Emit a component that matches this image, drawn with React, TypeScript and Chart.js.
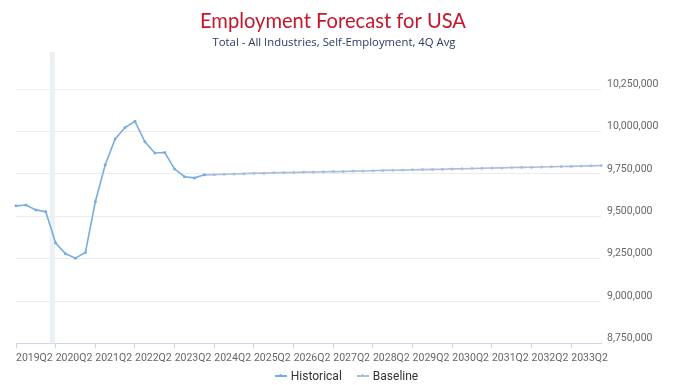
import React, { useEffect, useRef } from 'react';
import { Chart, registerables } from 'chart.js';

Chart.register(...registerables);

// Quarterly categories, 2019Q2 through 2034Q1
const quarters: string[] = [
  '2019Q2', '2019Q3', '2019Q4', '2020Q1',
  '2020Q2', '2020Q3', '2020Q4', '2021Q1',
  '2021Q2', '2021Q3', '2021Q4', '2022Q1',
  '2022Q2', '2022Q3', '2022Q4', '2023Q1',
  '2023Q2', '2023Q3', '2023Q4', '2024Q1',
  '2024Q2', '2024Q3', '2024Q4', '2025Q1',
  '2025Q2', '2025Q3', '2025Q4', '2026Q1',
  '2026Q2', '2026Q3', '2026Q4', '2027Q1',
  '2027Q2', '2027Q3', '2027Q4', '2028Q1',
  '2028Q2', '2028Q3', '2028Q4', '2029Q1',
  '2029Q2', '2029Q3', '2029Q4', '2030Q1',
  '2030Q2', '2030Q3', '2030Q4', '2031Q1',
  '2031Q2', '2031Q3', '2031Q4', '2032Q1',
  '2032Q2', '2032Q3', '2032Q4', '2033Q1',
  '2033Q2', '2033Q3', '2033Q4', '2034Q1',
];

// Self-employment, 4-quarter average: observed values 2019Q2–2024Q1
const historical: number[] = [
  9562000, 9567000, 9538000, 9527000,
  9342000, 9279000, 9253000, 9287000,
  9586000, 9804000, 9957000, 10024000,
  10061000, 9940000, 9874000, 9877000,
  9779000, 9734000, 9727000, 9745000,
];

// Baseline forecast 2024Q1–2034Q1
const baseline: number[] = [
  9745000, 9746000, 9748000, 9750000, 9752000,
  9754000, 9755000, 9757000, 9758000, 9759000,
  9761000, 9762000, 9763000, 9764000, 9765000,
  9767000, 9768000, 9769000, 9771000, 9772000,
  9773000, 9775000, 9776000, 9777000, 9778000,
  9780000, 9781000, 9782000, 9784000, 9785000,
  9786000, 9788000, 9789000, 9790000, 9791000,
  9793000, 9794000, 9795000, 9797000, 9798000,
  9800000,
];
const baselineStart = 19;

const yTicks: number[] = [8750000, 9000000, 9250000, 9500000, 9750000, 10000000, 10250000];

const titleText = 'Employment Forecast for USA';
const subtitleText = 'Total - All Industries, Self-Employment, 4Q Avg';

// Shaded recession period (fractional category positions)
const bandFrom = 3.4;
const bandTo = 3.93;

const HIST_COLOR = '#78ade2';
const BASE_COLOR = '#a8bfdc';

const bandPlugin = {
  id: 'recessionBand',
  beforeDatasetsDraw(chart: any) {
    const { ctx, chartArea, scales } = chart;
    const x0 = scales.x.getPixelForValue(bandFrom);
    const x1 = scales.x.getPixelForValue(bandTo);
    ctx.save();
    ctx.fillStyle = '#eef1f4';
    ctx.fillRect(x0, chartArea.top, x1 - x0, chartArea.bottom - chartArea.top);
    ctx.restore();
  },
};

// Heading drawn on the canvas with a horizontally condensed face
function drawFittedText(
  ctx: CanvasRenderingContext2D,
  text: string,
  font: string,
  color: string,
  cx: number,
  baseline: number,
  targetWidth: number
) {
  ctx.save();
  ctx.font = font;
  ctx.fillStyle = color;
  ctx.textAlign = 'center';
  ctx.textBaseline = 'alphabetic';
  const w = ctx.measureText(text).width;
  const sx = Math.max(0.75, Math.min(1.25, targetWidth / w));
  ctx.translate(cx, baseline);
  ctx.scale(sx, 1);
  ctx.fillText(text, 0, 0);
  ctx.restore();
}

const headingPlugin = {
  id: 'heading',
  afterDraw(chart: any) {
    const ctx = chart.ctx as CanvasRenderingContext2D;
    drawFittedText(ctx, titleText, '22px Lato, sans-serif', '#c4172c', 333, 27.7, 266);
    drawFittedText(ctx, subtitleText, '11px "Open Sans", sans-serif', '#2c3a64', 334, 45.7, 243);
  },
};

function LegendItem({ color, label }: { color: string; label: string }) {
  return (
    <span style={{ display: 'inline-flex', alignItems: 'center' }}>
      <span style={{ position: 'relative', width: 12, height: 8, marginRight: 4 }}>
        <span style={{ position: 'absolute', left: 0, top: 3, width: 12, height: 1.5, background: color }} />
        <span style={{ position: 'absolute', left: 4.5, top: 2.2, width: 3, height: 3, borderRadius: '50%', background: color }} />
      </span>
      <span>{label}</span>
    </span>
  );
}

export default function App() {
  const canvasRef = useRef<HTMLCanvasElement | null>(null);

  useEffect(() => {
    document.body.style.margin = '0';
    const canvas = canvasRef.current;
    if (!canvas) return;

    const histData: (number | null)[] = quarters.map((_, i) => (i < historical.length ? historical[i] : null));
    const baseData: (number | null)[] = quarters.map((_, i) =>
      i >= baselineStart && i - baselineStart < baseline.length ? baseline[i - baselineStart] : null
    );

    const chart = new Chart(canvas, {
      type: 'line',
      data: {
        labels: quarters,
        datasets: [
          {
            label: 'Historical',
            data: histData,
            borderColor: HIST_COLOR,
            backgroundColor: HIST_COLOR,
            borderWidth: 1.6,
            pointRadius: 1.5,
            pointBorderWidth: 0,
            pointBackgroundColor: HIST_COLOR,
            tension: 0,
            spanGaps: false,
          },
          {
            label: 'Baseline',
            data: baseData,
            borderColor: BASE_COLOR,
            backgroundColor: BASE_COLOR,
            borderWidth: 1.6,
            pointRadius: 1.5,
            pointBorderWidth: 0,
            pointBackgroundColor: BASE_COLOR,
            tension: 0,
            spanGaps: false,
          },
        ],
      },
      options: {
        responsive: false,
        animation: false,
        layout: { padding: { left: 16, right: 0, top: 52, bottom: 16 } },
        plugins: {
          legend: { display: false },
          tooltip: { enabled: false },
          title: { display: false },
        },
        scales: {
          x: {
            type: 'category',
            offset: false,
            afterBuildTicks(scale: any) {
              scale.ticks = scale.ticks.filter((t: any) => t.value % 4 === 0);
            },
            grid: {
              drawOnChartArea: false,
              drawTicks: true,
              tickLength: 5,
              color: '#ccd6eb',
            },
            border: { display: true, color: '#ccd6eb', width: 1 },
            ticks: {
              autoSkip: false,
              maxRotation: 0,
              minRotation: 0,
              align: 'start',
              padding: 4,
              color: '#666666',
              font: { family: 'Roboto, sans-serif', size: 10.5 },
            },
          },
          y: {
            position: 'right',
            min: 8750000,
            max: 10470000,
            afterBuildTicks(scale: any) {
              scale.ticks = yTicks.map((v) => ({ value: v }));
            },
            afterFit(scale: any) {
              scale.width = 92;
            },
            grid: { color: '#ececec', drawTicks: false, lineWidth: 1 },
            border: { display: false },
            ticks: {
              padding: 6,
              labelOffset: -5,
              color: '#666666',
              font: { family: 'Roboto, sans-serif', size: 10.5 },
              callback: (v: any) => Number(v).toLocaleString('en-US'),
            },
          },
        },
      },
      plugins: [bandPlugin, headingPlugin],
    });

    return () => chart.destroy();
  }, []);

  return (
    <div style={{ position: 'relative', width: 693, height: 385, background: '#ffffff' }}>
      <canvas ref={canvasRef} width={693} height={385} style={{ display: 'block' }} />
      <div
        style={{
          position: 'absolute',
          left: 0,
          top: 368,
          width: 693,
          display: 'flex',
          justifyContent: 'center',
          gap: 15,
          fontFamily: 'Roboto, sans-serif',
          fontSize: 12,
          lineHeight: '16px',
          color: '#333333',
        }}
      >
        <LegendItem color={HIST_COLOR} label="Historical" />
        <LegendItem color={BASE_COLOR} label="Baseline" />
      </div>
    </div>
  );
}
